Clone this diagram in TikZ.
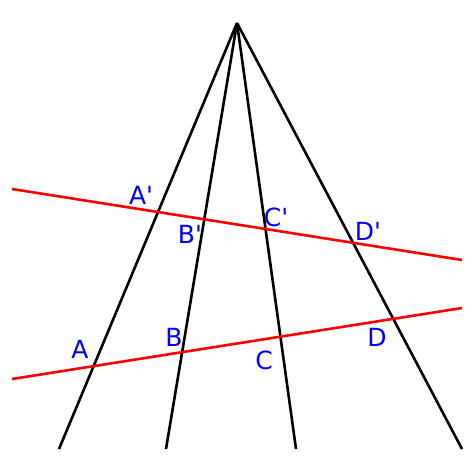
\documentclass[tikz,border=0pt]{standalone}
\usepackage{fontspec}
\setmainfont{DejaVu Sans}
\usepackage{tikz}

\begin{document}
\begin{tikzpicture}[
        x=1pt,y=-1pt,
        ray/.style={black,line width=2.6pt},
        transversal/.style={red,line width=2.6pt},
        pointlabel/.style={blue,font={\fontsize{25}{30}\selectfont}}
        ]

        % Frame
        \useasboundingbox (0,0) rectangle (474,474);

        % Apex and rays
        \coordinate (O) at (237,23);
        \coordinate (a) at (59,449);
        \coordinate (b) at (166,449);
        \coordinate (c) at (296,449);
        \coordinate (d) at (462,449);
        \foreach \e in {a,b,c,d}
            \draw[ray] (O)--(\e);

        % Transversals
        \coordinate (u1) at (12,189);
        \coordinate (u2) at (462,260);
        \coordinate (l1) at (12,379);
        \coordinate (l2) at (462,308);
        \draw[transversal] (u1)--(u2);
        \draw[transversal] (l1)--(l2);

        % Labels
        \node[pointlabel] (Ap) at (141,195) {A\textquotesingle};
        \node[pointlabel] (Bp) at (190,234) {B\textquotesingle};
        \node[pointlabel] (Cp) at (276,217) {C\textquotesingle};
        \node[pointlabel] (Dp) at (368,231) {D\textquotesingle};
        \node[pointlabel] (A) at (80,349) {A};
        \node[pointlabel] (B) at (174,337) {B};
        \node[pointlabel] (C) at (264,360) {C};
        \node[pointlabel] (D) at (377,337) {D};
    \end{tikzpicture}
\end{document}
